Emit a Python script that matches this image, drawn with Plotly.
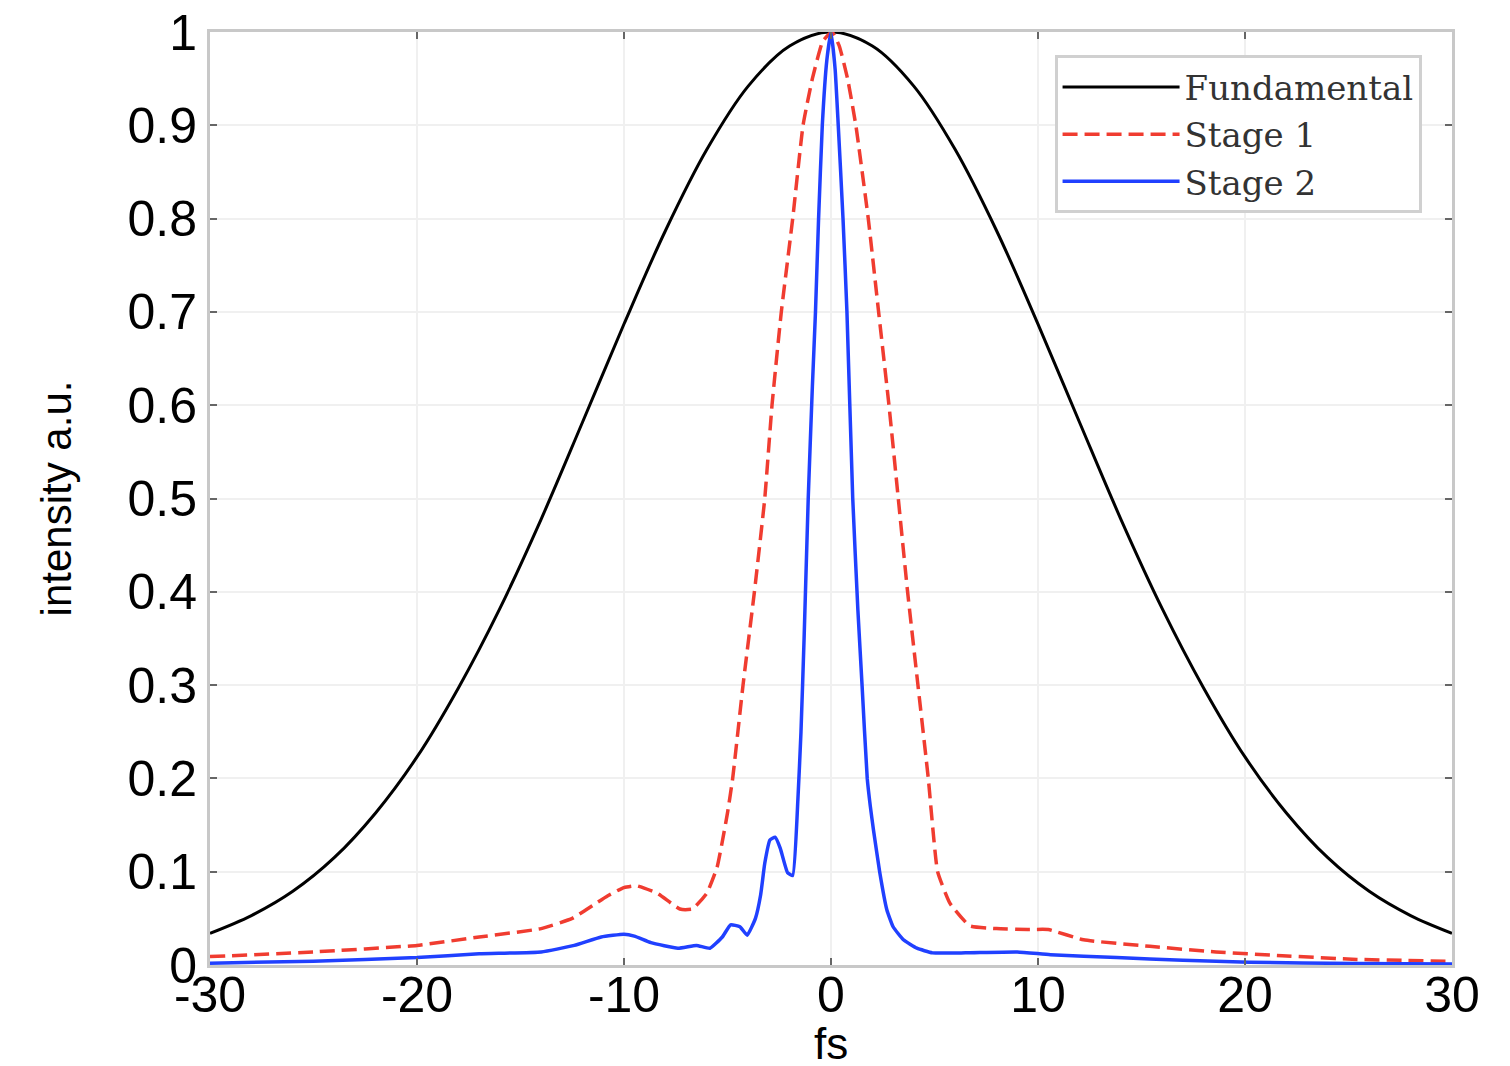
import plotly.graph_objects as go

# Time axis (fs) and intensities
fund_x = [-30, -28, -26, -24, -22, -20, -18, -16, -14, -12, -10, -8, -6, -4, -2, 0,
          2, 4, 6, 8, 10, 12, 14, 16, 18, 20, 22, 24, 26, 28, 30]
fund_y = [0.034, 0.053, 0.079, 0.115, 0.163, 0.223, 0.297, 0.382, 0.478, 0.582, 0.687,
          0.787, 0.874, 0.942, 0.985, 1.0, 0.985, 0.942, 0.874, 0.787, 0.687, 0.582,
          0.478, 0.382, 0.297, 0.223, 0.163, 0.115, 0.079, 0.053, 0.034]

stage1_x = [-30, -25, -20, -17, -14, -12.5, -11.5, -10.8, -10.0, -9.4, -8.4, -7.3, -6.7,
            -6.0, -5.5, -5.0, -4.75, -4.25, -3.7, -3.2, -2.85, -2.4, -1.85, -1.35, -0.9,
            -0.4, 0.05, 0.4, 0.8, 1.2, 1.8, 2.3, 2.8, 3.25, 3.7, 4.2, 4.7, 5.15, 5.75,
            6.7, 8.0, 9.5, 10.5, 12.2, 15.4, 18.6, 21.8, 25.4, 30]
stage1_y = [0.009, 0.014, 0.021, 0.030, 0.039, 0.050, 0.064, 0.074, 0.083, 0.085, 0.077,
            0.060, 0.060, 0.077, 0.105, 0.163, 0.20, 0.30, 0.40, 0.50, 0.60, 0.70, 0.80,
            0.90, 0.95, 0.99, 1.0, 0.985, 0.95, 0.90, 0.80, 0.70, 0.60, 0.50, 0.40, 0.30,
            0.20, 0.10, 0.066, 0.042, 0.039, 0.038, 0.038, 0.027, 0.020, 0.014, 0.010,
            0.006, 0.004]

stage2_x = [-30, -25, -20, -17, -14, -12.4, -11.1, -10.0, -9.5, -8.7, -7.4, -6.5, -5.85,
            -5.25, -4.85, -4.4, -4.05, -3.65, -3.4, -3.2, -2.95, -2.7, -2.45, -2.1, -1.85,
            -1.6, -1.45, -1.3, -1.1, -0.9, -0.75, -0.6, -0.42, -0.2, 0.0, 0.2, 0.35, 0.58,
            0.77, 1.05, 1.3, 1.5, 1.75, 1.9, 2.05, 2.35, 2.7, 3.0, 3.5, 4.15, 4.9, 6.5,
            9.0, 10.6, 13.8, 17.0, 20.2, 25.4, 30]
stage2_y = [0.002, 0.004, 0.008, 0.012, 0.014, 0.021, 0.030, 0.033, 0.031, 0.024, 0.018,
            0.021, 0.018, 0.030, 0.043, 0.041, 0.032, 0.050, 0.075, 0.109, 0.134, 0.137,
            0.125, 0.099, 0.096, 0.177, 0.25, 0.35, 0.50, 0.62, 0.70, 0.80, 0.90, 0.97,
            1.0, 0.96, 0.90, 0.80, 0.70, 0.50, 0.38, 0.30, 0.20, 0.17, 0.145, 0.10, 0.059,
            0.041, 0.027, 0.018, 0.013, 0.013, 0.014, 0.011, 0.008, 0.005, 0.003, 0.0015,
            0.001]

x_ticks = [-30, -20, -10, 0, 10, 20, 30]
x_tick_labels = ["-30", "-20", "-10", "0", "10", "20", "30"]
y_ticks = [0, 0.1, 0.2, 0.3, 0.4, 0.5, 0.6, 0.7, 0.8, 0.9, 1]
y_tick_labels = ["0", "0.1", "0.2", "0.3", "0.4", "0.5", "0.6", "0.7", "0.8", "0.9", "1"]

fig = go.Figure()
fig.add_trace(go.Scatter(x=fund_x, y=fund_y, mode="lines", name="Fundamental",
                         line=dict(color="#000000", width=3, shape="spline", smoothing=1.0)))
fig.add_trace(go.Scatter(x=stage1_x, y=stage1_y, mode="lines", name="Stage 1",
                         line=dict(color="#f03c30", width=3.5, dash="15px,7px",
                                   shape="spline", smoothing=0.4)))
fig.add_trace(go.Scatter(x=stage2_x, y=stage2_y, mode="lines", name="Stage 2",
                         line=dict(color="#2040ff", width=3.5, shape="spline", smoothing=0.4)))

axis_common = dict(
    showline=True, linecolor="#c8c8c8", linewidth=3, mirror="allticks",
    ticks="inside", ticklen=7, tickcolor="#666666", tickwidth=2,
    showgrid=True, gridcolor="#f0f0f0", gridwidth=2, zeroline=False,
    automargin=False, ticklabeloverflow="allow",
    tickfont=dict(family="Liberation Sans, Arial", size=50, color="#000000"),
)

fig.update_layout(
    width=1510, height=1066,
    margin=dict(l=202, r=66, t=24, b=109),
    paper_bgcolor="white", plot_bgcolor="white",
    showlegend=True,
    legend=dict(
        x=0.68, y=0.975, xanchor="left", yanchor="top",
        bgcolor="white", bordercolor="#d0d0d0", borderwidth=3,
        font=dict(family="DejaVu Serif", size=34, color="#333333"),
        itemwidth=117, tracegroupgap=0,
    ),
    xaxis=dict(axis_common, range=[-30, 30], tickvals=x_ticks, ticktext=x_tick_labels,
               ticklabelstandoff=-16),
    yaxis=dict(axis_common, range=[0, 1], tickvals=y_ticks, ticktext=y_tick_labels,
               ticklabelstandoff=0,
               title=dict(text="intensity a.u.", font=dict(family="Liberation Sans, Arial",
                                                           size=42, color="#000000"),
                          standoff=43)),
    annotations=[dict(text="fs", xref="paper", yref="paper", x=0.5, y=0,
                      xanchor="center", yanchor="top", yshift=-52, showarrow=False,
                      font=dict(family="Liberation Sans, Arial", size=44, color="#000000"))],
)

fig.write_html("out.html")
